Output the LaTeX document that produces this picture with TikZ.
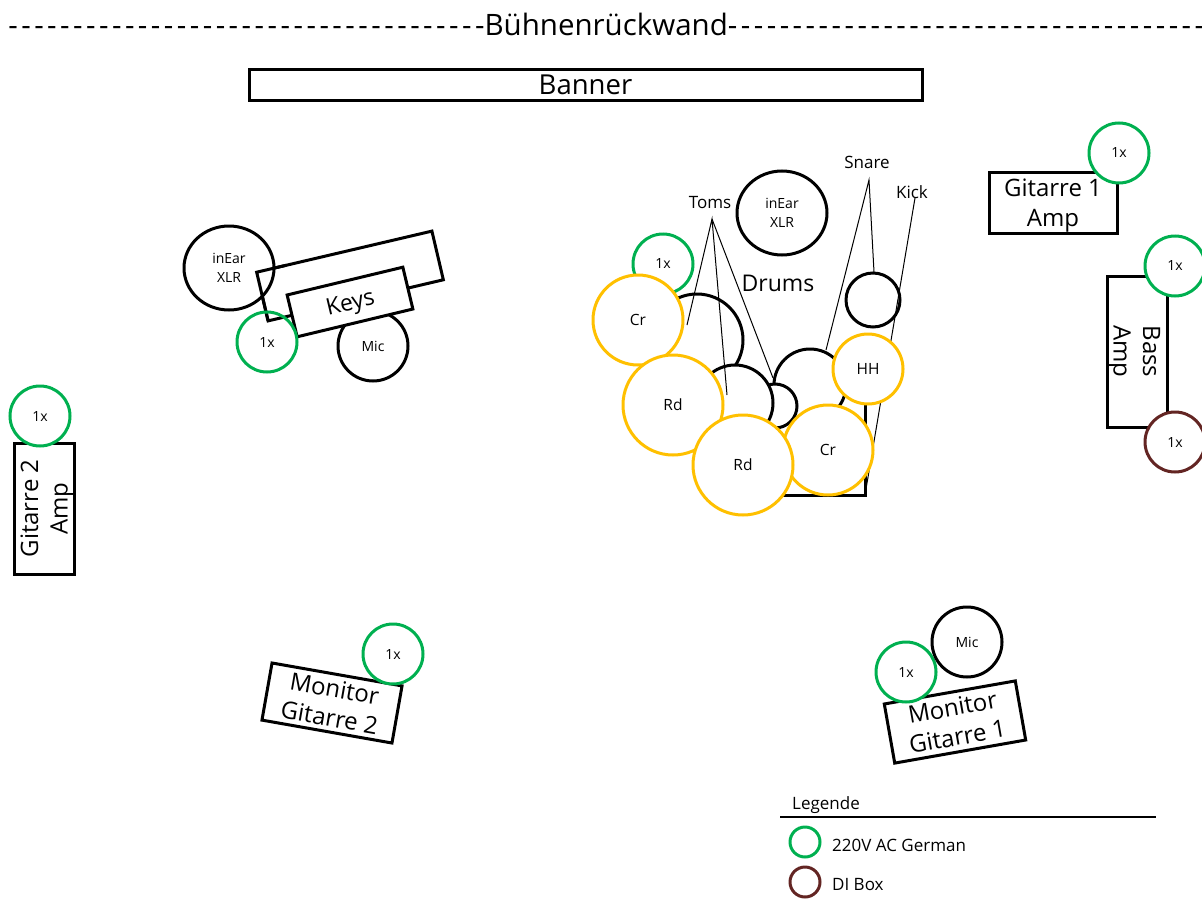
\documentclass[tikz,border=0pt]{standalone}
\usepackage{fontspec}
\usetikzlibrary{shapes.geometric}
\setmainfont{Open Sans}
\newfontfamily\dashfont{Open Sans}[LetterSpace=11.75]
\definecolor{powergreen}{RGB}{0,176,80}
\definecolor{dibrown}{RGB}{99,37,35}
\definecolor{cymbalgold}{RGB}{255,192,0}
\tikzset{
  kit/.style={circle,draw=black,line width=3pt,fill=white,minimum size=#1,inner sep=0pt,outer sep=0pt,align=center,font=\fontsize{14}{17}\selectfont},
  ear/.style={ellipse,draw=black,line width=3pt,fill=white,minimum width=90pt,minimum height=#1,inner sep=0pt,outer sep=0pt,align=center,font=\fontsize{14}{19}\selectfont},
  power/.style={kit=60pt,draw=powergreen},
  dibox/.style={kit=60pt,draw=dibrown},
  cymbal/.style={kit=#1,draw=cymbalgold,font=\fontsize{15.5}{19}\selectfont},
  gear/.style={draw=black,line width=3pt,fill=white,inner sep=0pt,outer sep=0pt,align=center,font=\fontsize{24}{29.5}\selectfont},
  wire/.style={draw=black,line width=1pt},
  tag/.style={inner sep=0pt,font=\fontsize{17}{20}\selectfont}
}
\begin{document}
\begin{tikzpicture}[x=1pt,y=-1pt]
\useasboundingbox (0,0) rectangle (1202,899);
\node (wall) [inner sep=0pt,font=\fontsize{29.5}{36}\selectfont] at (606,24) {{\dashfont -------------------------------------}Bühnenrückwand{\dashfont -------------------------------------}};
\node (banner) [gear,minimum width=673pt,minimum height=30pt,font=\fontsize{27.5}{30}\selectfont] at (585.5,85) {Banner};
% stage right
\node (amp1) [gear,text depth=0pt,minimum width=128pt,minimum height=61pt] at (1053,202.5) {Gitarre 1\\Amp};
\node (amp1p) [power] at (1119,153) {1x};
\node (bass) [gear,text depth=0pt,rotate=-90,minimum width=151pt,minimum height=60pt] at (1137,351.5) {Bass\\Amp};
\node (bassp) [power] at (1175,266) {1x};
\node (bassdi) [dibox] at (1175,442) {1x};
% stage left
\node (amp2) [gear,text depth=0pt,rotate=90,minimum width=131pt,minimum height=60pt] at (44,508.5) {Gitarre 2\\Amp};
\node (amp2p) [power] at (40,416) {1x};
% keys
\node (table) [gear,rotate=13.2,minimum width=180pt,minimum height=50pt] at (350,276) {};
\node (keysear) [ear=84pt] at (229,268) {inEar\\XLR};
\draw [line width=3pt] (table.south west) -- (table.north west) -- ++(13.2:30pt);
\node (keysmic) [kit=70pt] at (373,346) {Mic};
\node (keys) [gear,text depth=0pt,rotate=13.5,minimum width=119pt,minimum height=43pt,font=\fontsize{23}{27}\selectfont] at (350,302) {Keys};
\node (keysp) [power,fill=none] at (267,342) {1x};
% monitors
\node (mon2) [gear,rotate=-10,minimum width=132pt,minimum height=58pt] at (332,703) {Monitor\\Gitarre 2};
\node (mon2p) [power] at (393,654) {1x};
\node (mon1) [gear,rotate=10,minimum width=133pt,minimum height=60pt] at (955,722) {Monitor\\Gitarre 1};
\node (mon1p) [power] at (906,672) {1x};
\node (mon1mic) [kit=70pt] at (967,642) {Mic};
% drums
\node (drumsear) [ear=84pt] at (782,213) {inEar\\XLR};
\node (drumsp) [power] at (663,264) {1x};
\node (drums) [inner sep=0pt,font=\fontsize{23}{27}\selectfont] at (778,283) {Drums};
\coordinate (rackl) at (783,495);
\coordinate (rackc) at (865,495);
\coordinate (rackt) at (865,403);
\draw [line width=3pt] (rackl) -- (rackc) -- (rackt);
\node (tom1) [kit=92pt] at (697,340) {};
\node (tom3) [kit=72pt] at (810,385) {};
\node (tom4) [kit=44pt] at (775,406) {};
\node (tom2) [kit=76pt] at (735,403) {};
\node (snaredrum) [kit=54pt] at (873,300) {};
\node (toms) [tag] at (710,203) {Toms};
\node (snare) [tag] at (867,162) {Snare};
\node (kick) [tag] at (912,192) {Kick};
\coordinate (tomstip) at (712,219);
\coordinate (tomsa) at (687,325);
\coordinate (tomsb) at (727,395);
\coordinate (tomsc) at (773,378);
\coordinate (snaretip) at (869,180);
\coordinate (snarea) at (826,350);
\coordinate (snareb) at (874,272);
\coordinate (kicktip) at (915,198);
\draw [wire] (tomsa) -- (tomstip) -- (tomsb);
\draw [wire] (tomstip) -- (tomsc);
\draw [wire] (snarea) -- (snaretip) -- (snareb);
\draw [wire] (kicktip) -- (rackc);
\node (cr1) [cymbal=90pt] at (638,320) {Cr};
\node (hh) [cymbal=70pt] at (868,369) {HH};
\node (cr2) [cymbal=90pt] at (828,450) {Cr};
\node (rd1) [cymbal=100pt] at (673,405) {Rd};
\node (rd2) [cymbal=100pt] at (743,465) {Rd};
% legend
\node (legend) [tag,anchor=west] at (792,805) {Legende};
\coordinate (legl) at (780,817);
\coordinate (legr) at (1156,817);
\draw [line width=1.5pt] (legl) -- (legr);
\node (legac) [power,minimum size=30pt] at (805,842) {};
\node (legactxt) [tag,anchor=west] at (832,845) {220V AC German};
\node (legdi) [dibox,minimum size=30pt] at (805,882) {};
\node (legditxt) [tag,anchor=west] at (832,885) {DI Box};
\end{tikzpicture}
\end{document}
